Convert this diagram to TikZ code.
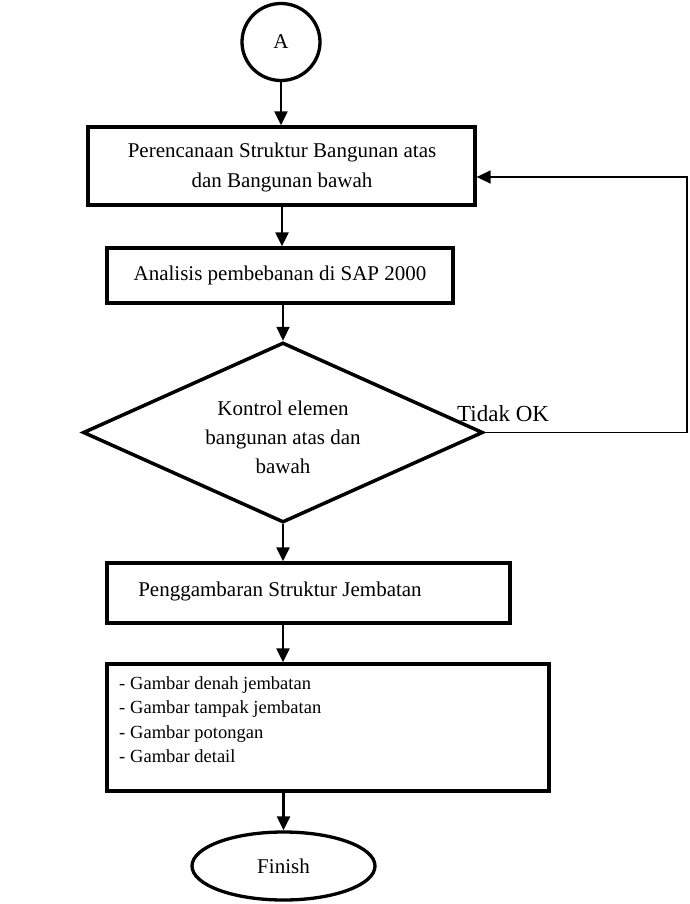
\documentclass[tikz,border=0pt]{standalone}
\usepackage{fontspec}
\setmainfont{Liberation Serif}
\usetikzlibrary{shapes.geometric,arrows.meta}
\begin{document}
\begin{tikzpicture}[x=1pt,y=-1pt,
  box/.style={draw,line width=3.3pt,rectangle,inner sep=0pt},
  oval/.style={draw,line width=3.3pt,ellipse,inner sep=0pt},
  txt/.style={font=\fontsize{21}{30}\selectfont,align=center,inner sep=0pt},
  arr/.style={line width=2.2pt,-{Triangle[width=13pt,length=14pt]}},
  fb/.style={line width=1.5pt,-{Triangle[width=13pt,length=14pt]}}]
\path[use as bounding box,fill=white] (0,0) rectangle (689,904);
% nodes
\node[oval,minimum width=78pt,minimum height=77pt] (A) at (281,42) {};
\node[txt,font=\fontsize{21}{24}\selectfont] (At) at (281,42) {A};
\node[box,minimum width=387pt,minimum height=78pt] (b1) at (281.5,166) {};
\node[txt] (b1t) at (282,167) {Perencanaan Struktur Bangunan atas\\dan Bangunan bawah};
\node[box,minimum width=346pt,minimum height=55pt] (b2) at (280,275.5) {};
\node[txt] (b2t) at (280,275) {Analisis pembebanan di SAP 2000};
\node[draw,line width=3.5pt,diamond,shape aspect=2.22,inner sep=0pt,
      minimum width=400pt,minimum height=180pt] (d) at (283,432.5) {};
\node[txt,font=\fontsize{21}{29}\selectfont] (dt) at (283,437) {Kontrol elemen\\bangunan atas dan\\bawah};
\node[txt,font=\fontsize{23}{28}\selectfont,anchor=base west] (tok) at (457,421) {Tidak OK};
\node[box,minimum width=403pt,minimum height=60pt] (b3) at (308.5,593) {};
\node[txt] (b3t) at (280,591) {Penggambaran Struktur Jembatan};
\node[box,minimum width=442pt,minimum height=127pt] (b4) at (328,727.5) {};
\node[anchor=north west,inner sep=0pt,align=left,
      font=\fontsize{18.5}{24.5}\selectfont] (b4t) at (119,676)
  {\makebox[11pt][l]{-}Gambar denah jembatan\\
   \makebox[11pt][l]{-}Gambar tampak jembatan\\
   \makebox[11pt][l]{-}Gambar potongan\\
   \makebox[11pt][l]{-}Gambar detail};
\node[oval,minimum width=183pt,minimum height=68pt] (fin) at (283.5,866) {};
\node[txt,font=\fontsize{21}{24}\selectfont] (fint) at (283.5,866) {Finish};
% connectors
\draw[arr] (A.south) -- (A.south |- b1.north);
\draw[arr] (282,0 |- b1.south) -- (282,0 |- b2.north);
\draw[arr] (d.north |- b2.south) -- (d.north);
\draw[arr] (d.south) -- (d.south |- b3.north);
\draw[arr] (d.south |- b3.south) -- (d.south |- b4.north);
\draw[arr] (fin.north |- b4.south) -- (fin.north);
\coordinate (r1) at (687,432.5);
\coordinate (r2) at (687,177);
\draw[fb] (d.east) -- (r1) -- (r2) -- (r2 -| b1.east);
\end{tikzpicture}
\end{document}
